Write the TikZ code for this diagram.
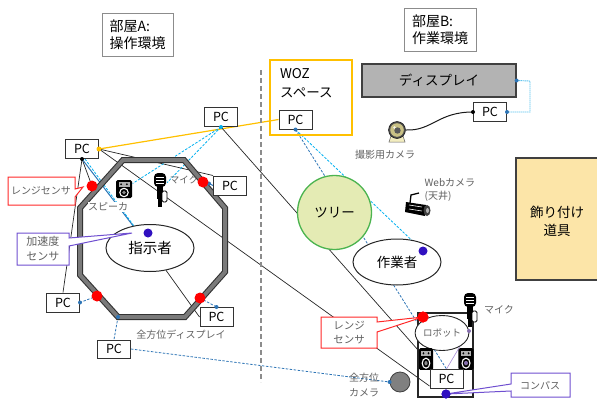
\documentclass[tikz,border=0pt]{standalone}
\usepackage{fontspec}
\setmainfont{Noto Sans CJK JP}
\usetikzlibrary{shapes.geometric,calc}
\pgfdeclarelayer{wires}
\pgfsetlayers{wires,main}

\definecolor{netcyan}{HTML}{00B0F0}
\definecolor{netblue}{HTML}{2E75B6}
\definecolor{wozorange}{HTML}{FFC000}
\definecolor{labelgray}{HTML}{606060}
\definecolor{sensorblue}{HTML}{3010C0}
\definecolor{calloutred}{HTML}{FF2828}
\definecolor{calloutpurple}{HTML}{6F4FD0}
\definecolor{treefill}{HTML}{E4EBB4}
\definecolor{treeline}{HTML}{4CB450}
\definecolor{toolfill}{HTML}{FCE5A8}
\definecolor{dispgray}{HTML}{B3B3B3}
\definecolor{barfill}{HTML}{7A7A7A}
\definecolor{linkpurple}{HTML}{A78BD8}
\definecolor{camolive}{HTML}{C9C185}
\definecolor{campale}{HTML}{F3EDC0}

\newcommand\fsz[2]{\fontsize{#1}{#2}\selectfont}

\tikzset{
  pcbox/.style={draw=black!80, fill=white, line width=1pt, minimum width=33pt,
    minimum height=19pt, inner sep=0pt, font=\fsz{12.5}{12.5}},
  roombox/.style={draw=black!45, fill=white, line width=1pt, align=left,
    inner sep=0pt, font=\fsz{14}{17}},
  graylabel/.style={text=labelgray, font=\fsz{10}{13}, inner sep=0.5pt, align=center},
  reddot/.style={circle, fill=red, minimum size=11pt, inner sep=0pt},
  vdot/.style={circle, fill=sensorblue, minimum size=9pt, inner sep=0pt},
  jdot/.style={circle, fill=netblue, minimum size=4pt, inner sep=0pt},
  kdot/.style={circle, fill=black, minimum size=4pt, inner sep=0pt},
  odot/.style={circle, fill=wozorange, minimum size=5pt, inner sep=0pt},
  pdot/.style={circle, fill=linkpurple!80!black, minimum size=4pt, inner sep=0pt},
  iconholder/.style={inner sep=0pt, minimum width=#1},
  wire/.style={draw=black!85, line width=0.7pt},
  cyandash/.style={draw=netcyan, line width=0.8pt, dash pattern=on 2.5pt off 1.5pt},
  bluedash/.style={draw=netblue, line width=0.8pt, dash pattern=on 2.5pt off 1.5pt},
  spk/.pic={
    \fill[black, rounded corners=1.5pt] (-8,-9) rectangle (8,9);
    \fill[black!30] (-5.5,-7) rectangle (5.5,-2.5);
    \fill[black] (-2.8,-4.75) circle (1) (2.8,-4.75) circle (1);
    \draw[white, line width=1.1pt] (0,3.5) circle (4.2);
    \fill[black!45] (0,3.5) circle (1.8);
  },
  mic/.pic={
    \fill[black, rounded corners=4pt] (-6,-17) rectangle (6,-3);
    \draw[white, line width=0.5pt] (-4,-13) -- (4,-13) (-4,-10) -- (4,-10) (-4,-7) -- (4,-7);
    \fill[black] (-3,-4) rectangle (3,9);
    \draw[black, fill=white, line width=0.9pt, rounded corners=1.5pt] (2,1) rectangle (7,12);
    \fill[black] (-2,9) rectangle (2,17);
  },
  shootcam/.pic={
    \draw[fill=campale, draw=black!60, line width=0.5pt] (-6,6) -- (6,6) -- (8,12) -- (-8,12) -- cycle;
    \draw[fill=black!70, draw=black] (0,0) circle (8.5);
    \fill[camolive] (0,0) circle (6.8);
    \fill[black!65] (0.5,0.5) circle (3.2);
    \fill[white!80!camolive] (-2.5,-2.5) circle (1.3);
  },
  webcam/.pic={
    \draw[black, line width=1.3pt] (-8,-3) -- (-7,-11) -- (1,-13);
    \fill[black] (-12,-4) -- (8,-1) -- (7,10) -- (-13,6) -- cycle;
    \draw[white, line width=0.6pt] (-9,-1) -- (4,1) (-9,3) -- (4,5);
    \fill[black!75] (9,4.5) ellipse (3.5 and 5.5);
    \fill[black!30] (9.5,4.5) ellipse (1.5 and 2.5);
  }
}

\begin{document}
\begin{tikzpicture}[x=1pt,y=-1pt]
\useasboundingbox (0,0) rectangle (597,399);

% ---------- room titles ----------
\node[roombox, minimum width=71pt, minimum height=43pt] (roomA) at (137.5,34.5) {部屋A:\\操作環境};
\node[roombox, minimum width=72pt, minimum height=43pt] (roomB) at (440,29.5) {部屋B:\\作業環境};

% ---------- divider between the rooms ----------
\draw[black!45, line width=1.5pt, dash pattern=on 5pt off 3pt] (261,70) -- (261,382);

% ---------- Wizard-of-Oz space ----------
\node[draw=wozorange, line width=1.5pt, minimum width=82pt, minimum height=75pt, inner sep=0pt] (woz) at (311,97.5) {};
\node[anchor=west, font=\fsz{13.5}{13.5}, inner sep=0pt] (wozT1) at (280,74) {WOZ};
\node[anchor=west, font=\fsz{13.5}{13.5}, inner sep=0pt] (wozT2) at (280,93) {スペース};
\node[pcbox] (pcWOZ) at (295.5,119.5) {PC};

% ---------- work room furniture ----------
\node[draw=black!75, fill=dispgray, line width=1.2pt, minimum width=154pt, minimum height=33pt,
  font=\fsz{13.5}{13.5}] (disp) at (439,80.5) {ディスプレイ};
\node[pcbox] (pcDisp) at (490,112) {PC};
\node[draw=black!75, fill=toolfill, line width=1.2pt, minimum width=86pt, minimum height=122pt,
  inner sep=0pt] (tools) at (559,219) {};
\node[align=center, font=\fsz{13.5}{18}] (toolsT) at (557,221) {飾り付け\\道具};

\pic at (397,130) {shootcam};
\node[iconholder=18pt, minimum height=18pt] (camShoot) at (397,130) {};
\node[graylabel] (camShootT) at (385,155) {撮影用カメラ};

\pic at (418,206) {webcam};
\node[graylabel, anchor=west, align=left] (webcamT) at (424,190) {Webカメラ\\(天井)};

\node[circle, draw=treeline, fill=treefill, line width=1.3pt, minimum size=74pt,
  font=\fsz{13.5}{13.5}] (tree) at (334.5,212.5) {ツリー};

\node[ellipse, draw=black!85, fill=white, line width=1pt, minimum width=88pt, minimum height=46pt,
  font=\fsz{13.5}{13.5}] (worker) at (397,262) {作業者};
\node[vdot] (workerS) at (423,251) {};

% ---------- robot ----------
\node[draw=black!85, line width=1.2pt, minimum width=55pt, minimum height=84pt, inner sep=0pt] (robotbox) at (445.5,355) {};
\node[ellipse, draw=black!85, fill=white, line width=0.9pt, minimum width=44pt, minimum height=35pt,
  inner sep=0pt, text=labelgray, font=\fsz{9.5}{9.5}] (robot) at (442,333) {ロボット};
\pic[xscale=0.9, yscale=1.2] at (426,359) {spk};
\node[iconholder=15pt, minimum height=22pt] (spkRL) at (426,359) {};
\pic[xscale=0.95, yscale=1.2] at (466,359) {spk};
\node[iconholder=16pt, minimum height=22pt] (spkRR) at (466,359) {};
\node[pdot] (spkRRdot) at (466,363) {};
\pic at (470,310) {mic};
\node[iconholder=14pt, minimum height=34pt] (micR) at (470,310) {};
\node[pdot] (micRdot) at (469,331) {};
\node[graylabel] (micRT) at (499,310) {マイク};
\node[pcbox] (pcRobot) at (446.5,379) {PC};
\node[vdot] (compass) at (446,394) {};
\node[reddot] (rsR) at (423,317) {};

\node[circle, draw=black!75, fill=black!50, line width=0.8pt, minimum size=20pt, inner sep=0pt] (omni) at (400,382) {};
\node[jdot] (omniW) at (omni.west) {};
\node[graylabel, font=\fsz{10}{15}] (omniT) at (364,385) {全方位\\カメラ};

% ---------- operator room: surrounding display ----------
\coordinate (o1) at (123,160);
\coordinate (o2) at (184,160);
\coordinate (o3) at (225,208);
\coordinate (o4) at (225,272);
\coordinate (o5) at (185,317);
\coordinate (o6) at (118,317);
\coordinate (o7) at (80,275);
\coordinate (o8) at (80,208);
\draw[black!80, line width=6pt, line join=miter] (o1) -- (o2) -- (o3) -- (o4) -- (o5) -- (o6) -- (o7) -- (o8) -- cycle;
\draw[barfill, line width=3.8pt, line join=miter] (o1) -- (o2) -- (o3) -- (o4) -- (o5) -- (o6) -- (o7) -- (o8) -- cycle;
\node[jdot] (o6dot) at (o6) {};
\node[graylabel] (omniDispT) at (181,335) {全方位ディスプレイ};

\node[ellipse, draw=black!85, fill=white, line width=1pt, minimum width=88pt, minimum height=47pt,
  font=\fsz{14.5}{14.5}] (shiji) at (150,248) {指示者};
\node[vdot] (shijiS) at (148,233) {};

\pic at (124,189) {spk};
\node[iconholder=17pt, minimum height=18pt] (spkA) at (124,189) {};
\node[graylabel, fill=white] (spkAT) at (108,207) {スピーカ};
\pic at (160,190) {mic};
\node[iconholder=14pt, minimum height=34pt] (micA) at (160,190) {};
\node[graylabel, font=\fsz{9.5}{9.5}] (micAT) at (184,180) {マイク};

% ---------- PCs ----------
\node[pcbox] (pcTL) at (82,149) {PC};
\node[pcbox] (pcTM) at (221,117) {PC};
\node[pcbox] (pcR1) at (230,185.5) {PC};
\node[pcbox] (pcL2) at (63,302.5) {PC};
\node[pcbox] (pcR2) at (216.5,317) {PC};
\node[pcbox, minimum height=18pt] (pcB) at (114,349) {PC};

\node[odot] (tlE) at (pcTL.east) {};
\node[kdot] (tlS) at (pcTL.south) {};
\node[jdot, fill=netcyan] (tmS) at (pcTM.south) {};
\node[jdot] (wozS) at (pcWOZ.south) {};
\node[jdot] (r1W) at (209,183.5) {};
\node[jdot] (l2E) at (pcL2.east) {};
\node[jdot] (r2N) at (pcR2.north) {};
\node[jdot] (dispE) at (disp.east) {};
\node[jdot] (pcDispE) at (pcDisp.east) {};
\node[kdot] (pcDispW) at (pcDisp.west) {};
\coordinate (dispLoop) at (530,81);

% ---------- range sensors ----------
\node[reddot] (rsA) at (92,186) {};
\node[reddot] (rsB) at (203,182) {};
\node[reddot] (rsC) at (97,296) {};
\node[reddot] (rsD) at (200,298) {};

% ---------- callouts ----------
\draw[calloutred, fill=white, line width=1pt] (8,177) -- (75,177) -- (75,189) -- (83,187) -- (75,197) -- (75,205) -- (8,205) -- cycle;
\node[graylabel] (rsAT) at (41,191) {レンジセンサ};

\draw[calloutpurple, fill=white, line width=1pt] (17,233) -- (69,233) -- (69,238) -- (132,233) -- (69,246) -- (69,265) -- (17,265) -- cycle;
\node[graylabel, font=\fsz{11}{15}] (accT) at (43,249) {加速度\\センサ};

\draw[calloutred, fill=white, line width=1pt] (321,317) -- (377,317) -- (377,322) -- (rsR.center) -- (377,332) -- (377,348) -- (321,348) -- cycle;
\node[graylabel, font=\fsz{10.5}{14}] (rsRT) at (349,333) {レンジ\\センサ};
\node[reddot] at (rsR) {};

\draw[calloutpurple, fill=white, line width=1pt] (511,373) -- (570,373) -- (570,397) -- (511,397) -- (511,391) -- (compass.center) -- (511,384) -- cycle;
\node[graylabel] (compassT) at (540,386) {コンパス};
\node[vdot] at (compass) {};

% ---------- connections ----------
\begin{pgfonlayer}{wires}
  \draw[wozorange, line width=1.2pt] (tlE.center) -- (pcWOZ.west);
  \draw[wire] (tlE.center) -- (pcR1.north west);
  \draw[wire] (tlE.center) -- ([yshift=3pt]pcRobot.south west);
  \draw[wire] (tlS.center) -- (pcL2.north);
  \draw[wire] (tlS.center) -- (rsA.center);
  \draw[netblue, line width=1pt] (tlS.center) -- (shiji);
  \draw[cyandash] ([xshift=3pt]tlS.center) -- (shiji);
  \draw[cyandash] (tmS.center) -- (spkA);
  \draw[cyandash] (tmS.center) -- (micA);
  \draw[wire] (tmS.center) -- (spkRL);
  \draw[netblue, line width=0.9pt] (rsB.center) -- (r1W.center) -- (pcR1.west);
  \draw[wire] (shiji) -- (pcR2.west);
  \draw[bluedash] (rsD.center) -- (r2N.center);
  \draw[bluedash] (rsC.center) -- (l2E.center);
  \draw[bluedash] (o6dot.center) -- (pcB.north);
  \draw[bluedash] (pcB.east) -- (omniW.center);
  \draw[cyandash] (wozS.center) -- (workerS.center);
  \draw[bluedash] (wozS.center) -- (pcRobot.north);
  \draw[black!90, line width=1pt] (camShoot.east) .. controls (432,131) and (438,112) .. (pcDispW.center);
  \draw[netcyan!80!netblue, line width=0.9pt, dash pattern=on 1pt off 1pt] (dispE.center) -- (dispLoop) |- (pcDispE.center);
  \draw[linkpurple, line width=0.6pt] (micRdot.center) -- (pcRobot.north);
  \draw[linkpurple, line width=0.6pt] (spkRRdot.center) -- (pcRobot.north east);
\end{pgfonlayer}
\end{tikzpicture}
\end{document}
